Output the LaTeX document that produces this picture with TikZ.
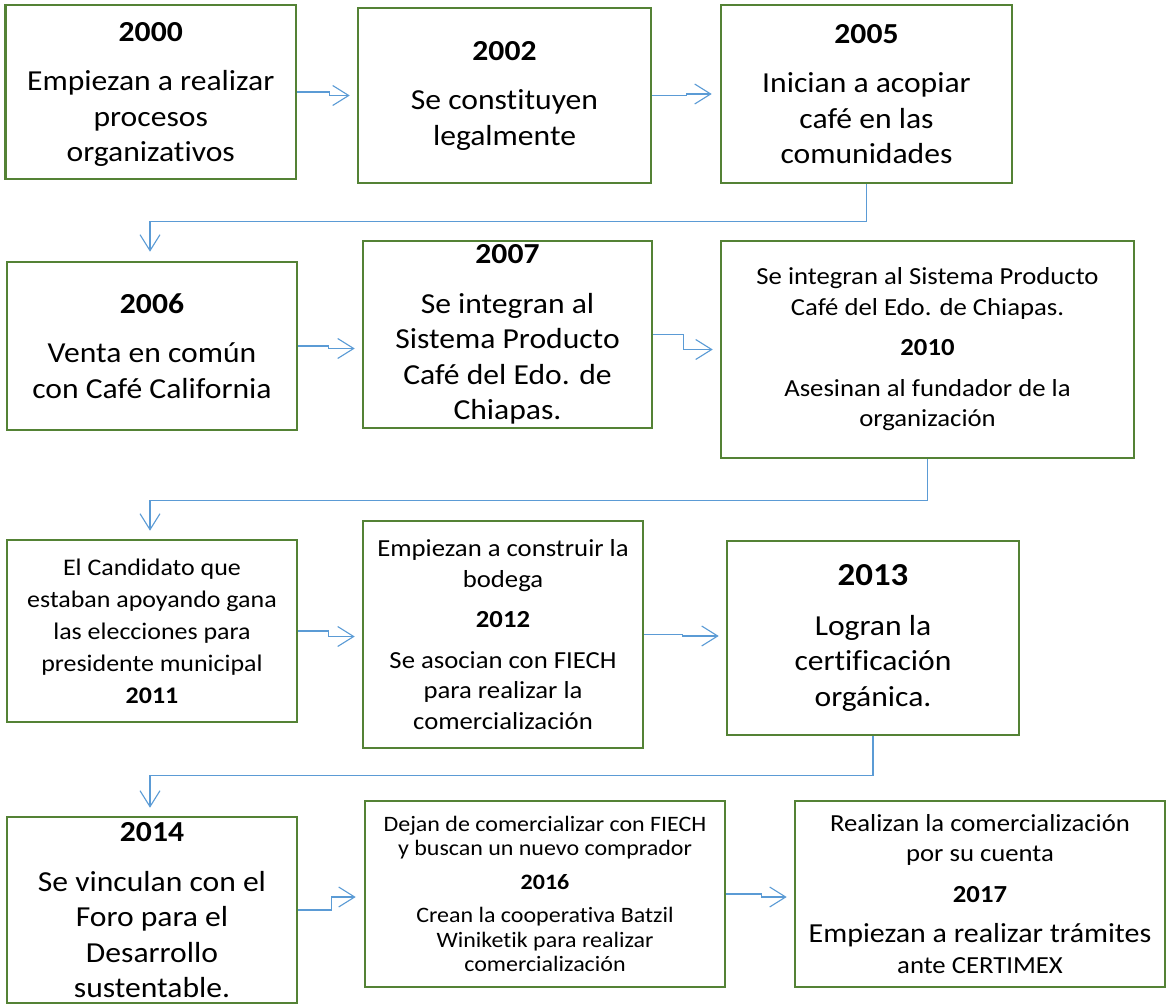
\documentclass[tikz,border=0pt]{standalone}
\usepackage{fontspec}
\setmainfont{Carlito}[FakeStretch=1.09, Ligatures=NoCommon]
\usetikzlibrary{arrows.meta,calc}
\definecolor{boxgreen}{RGB}{84,130,53}
\definecolor{arrblue}{RGB}{91,155,213}
\tikzset{
  box/.style={draw=boxgreen, line width=2.6pt, align=center, inner sep=0pt},
  arr/.style={draw=arrblue, line width=1.1pt, -{Straight Barb[length=16pt,width=20pt,line width=1.1pt]}},
  big/.style={font=\fontsize{29}{35.5}\selectfont},
  small/.style={font=\fontsize{24.5}{30.5}\selectfont},
  tiny/.style={font=\fontsize{22}{24.5}\selectfont},
}
\begin{document}
\begin{tikzpicture}[x=1pt,y=-1pt]
\useasboundingbox (0,0) rectangle (1168,1006);
% row 1
\node[box,big,minimum width=290.5pt,minimum height=174pt,text depth=-2pt] (b1) at (150.75,92)
  {\textbf{2000}\\[14pt]Empiezan a realizar\\procesos\\organizativos};
\node[box,big,minimum width=293pt,minimum height=175pt] (b2) at (504.5,95.5)
  {\textbf{2002}\\[14pt]Se constituyen\\legalmente};
\node[box,big,minimum width=291pt,minimum height=178pt] (b3) at (866.5,94)
  {\textbf{2005}\\[14pt]Inician a acopiar\\café en las\\comunidades};
% row 2
\node[box,big,minimum width=290pt,minimum height=168pt] (b4) at (152,346)
  {\textbf{2006}\\[14pt]Venta en común\\con Café California};
\node[box,big,minimum width=289pt,minimum height=187pt] (b5) at (507.5,334.5)
  {\textbf{2007}\\[14pt]Se integran al\\Sistema Producto\\Café del Edo. de\\Chiapas.};
\node[box,small,minimum width=413pt,minimum height=217pt] (b6) at (927.5,349.5)
  {Se integran al Sistema Producto\\Café del Edo. de Chiapas.\\[10pt]\textbf{2010}\\[10pt]Asesinan al fundador de la\\organización};
% row 3
\node[box,font=\fontsize{23.8}{32}\selectfont,minimum width=290pt,minimum height=182pt] (b7) at (152,631)
  {El Candidato que\\estaban apoyando gana\\las elecciones para\\presidente municipal\\[0pt]\textbf{2011}};
\node[box,small,minimum width=280pt,minimum height=227pt] (b8) at (503,634.5)
  {Empiezan a construir la\\bodega\\[10pt]\textbf{2012}\\[10pt]Se asocian con FIECH\\para realizar la\\comercialización};
\node[box,big,minimum width=292pt,minimum height=194pt] (b9) at (873,638)
  {{\fontsize{32}{35.5}\selectfont\textbf{2013}}\\[14pt]Logran la\\certificación\\orgánica.};
% row 4
\node[box,big,minimum width=290pt,minimum height=186pt,text depth=-6pt] (b10) at (152,910)
  {\textbf{2014}\\[14pt]Se vinculan con el\\Foro para el\\Desarrollo\\sustentable.};
\node[box,tiny,minimum width=360pt,minimum height=186pt,text depth=-6pt] (b11) at (545,894)
  {Dejan de comercializar con FIECH\\y buscan un nuevo comprador\\[9pt]\textbf{2016}\\[9pt]Crean la cooperativa Batzil\\Winiketik para realizar\\comercialización};
\node[box,small,minimum width=370pt,minimum height=186pt] (b12) at (980,894)
  {Realizan la comercialización\\por su cuenta\\[10pt]\textbf{2017}\\[10pt]{\fontsize{27.5}{30.5}\selectfont Empiezan a realizar trámites}\\ante CERTIMEX};
% connectors
\draw[arr] (b1.east) -- ++(32,0) |- ($(b2.west)+(-7,0)$);
\draw[arr] (b2.east) -- ++(34,0) |- ($(b3.west)+(-8,0)$);
\draw[arr] (b3.south) -- ++(0,37) -| ($(b4.north)+(-2,-9)$);
\draw[arr] (b4.east) -- ++(30,0) |- ($(b5.west)+(-7,14)$);
\draw[arr] (b5.east) -- ++(30,0) |- ($(b6.west)+(-7,0)$);
\draw[arr] (b6.south) -- ++(0,41) -| ($(b7.north)+(-2,-8)$);
\draw[arr] (b7.east) -- ++(30,0) |- ($(b8.west)+(-7,2)$);
\draw[arr] (b8.east) -- ++(38,0) |- ($(b9.west)+(-7,-2)$);
\draw[arr] (b9.south) -- ++(0,39) -| ($(b10.north)+(-2,-8)$);
\draw[arr] (b10.east) -- ++(33,0) |- ($(b11.west)+(-8,3)$);
\draw[arr] (b11.east) -- ++(35,0) |- ($(b12.west)+(-7,3)$);
\end{tikzpicture}
\end{document}
